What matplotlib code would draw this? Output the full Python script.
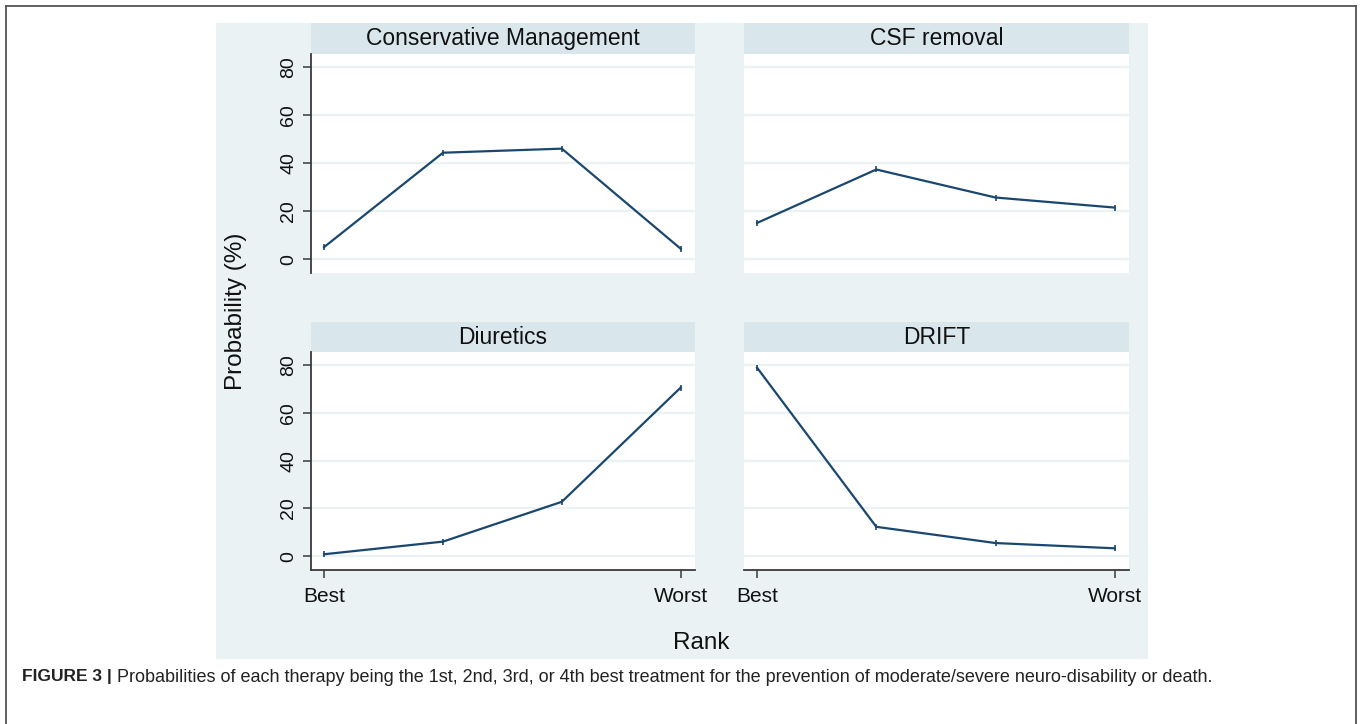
import matplotlib
matplotlib.use("Agg")
import matplotlib.pyplot as plt
from matplotlib.patches import Rectangle
from matplotlib.lines import Line2D

plt.rcParams['font.family'] = ['Liberation Sans', 'DejaVu Sans']

# ---- data ----
ranks = [1, 2, 3, 4]
rank_tick_pos = [1, 4]
rank_tick_labels = ["Best", "Worst"]
y_ticks = [0, 20, 40, 60, 80]
panel_titles = ["Conservative Management", "CSF removal", "Diuretics", "DRIFT"]
conservative = [5.0, 44.4, 46.1, 4.3]
csf_removal = [15.1, 37.4, 25.7, 21.5]
diuretics = [0.8, 6.1, 22.8, 70.7]
drift = [79.0, 12.3, 5.5, 3.3]
series = [conservative, csf_removal, diuretics, drift]
caption_bold = "FIGURE 3 |"
caption_text = (" Probabilities of each therapy being the 1st, 2nd, 3rd, or 4th best treatment "
                "for the prevention of moderate/severe neuro-disability or death.")

W, H = 1360, 724
fig = plt.figure(figsize=(W / 100, H / 100), dpi=100)

def fx(x):
    return x / W

def fy(y):
    return 1 - y / H

BG = "#eaf2f3"
STRIP = "#d9e6eb"
NAVY = "#1a476f"
SPINE = "#3a3a3a"

# outer border (left, top, right)
fig.add_artist(Line2D([fx(5.5), fx(5.5)], [fy(724), fy(6)], transform=fig.transFigure, color="#555555", lw=1.3))
fig.add_artist(Line2D([fx(5.5), fx(1355.5)], [fy(6), fy(6)], transform=fig.transFigure, color="#555555", lw=1.3))
fig.add_artist(Line2D([fx(1355.5), fx(1355.5)], [fy(6), fy(724)], transform=fig.transFigure, color="#555555", lw=1.3))

# graph region background
fig.add_artist(Rectangle((fx(216), fy(659)), fx(1148) - fx(216), fy(23) - fy(659),
                         transform=fig.transFigure, facecolor=BG, edgecolor="none", zorder=0))

cols = [(311, 695), (744, 1129)]
rows = [((23, 54), (54, 273)), ((322, 352), (352, 570))]

for idx, (title, vals) in enumerate(zip(panel_titles, series)):
    r, c = divmod(idx, 2)
    x0, x1 = cols[c]
    (s0, s1), (p0, p1) = rows[r]
    # strip
    sax = fig.add_axes([fx(x0), fy(s1), fx(x1) - fx(x0), fy(s0) - fy(s1)])
    sax.set_facecolor(STRIP)
    sax.set_xticks([]); sax.set_yticks([])
    for sp in sax.spines.values():
        sp.set_visible(False)
    sax.text(0.5, 0.5, title, ha="center", va="center", fontsize=16.5, color="#111111",
             transform=sax.transAxes)
    # plot
    ax = fig.add_axes([fx(x0), fy(p1), fx(x1) - fx(x0), fy(p0) - fy(p1)])
    ax.set_facecolor("white")
    ax.set_xlim(0.89, 4.12)
    ax.set_ylim(-5.8, 85.6)
    for yv in y_ticks:
        ax.axhline(yv, color=BG, lw=1.6, zorder=1)
    ax.plot(ranks, vals, color=NAVY, lw=1.6, marker="|", markersize=4, markeredgewidth=1.2, zorder=3)
    for sp in ["top", "right"]:
        ax.spines[sp].set_visible(False)
    ax.spines["left"].set_visible(c == 0)
    ax.spines["bottom"].set_visible(r == 1)
    for sp in ["left", "bottom"]:
        ax.spines[sp].set_color(SPINE)
        ax.spines[sp].set_linewidth(1.3)
    if c == 0:
        ax.set_yticks(y_ticks)
        ax.set_yticklabels([str(v) for v in y_ticks], rotation=90, va="center", fontsize=14, color="#111111")
        ax.tick_params(axis="y", length=6, width=1.1, color=SPINE, pad=4)
    else:
        ax.set_yticks([])
    if r == 1:
        ax.set_xticks(rank_tick_pos)
        ax.set_xticklabels(rank_tick_labels, fontsize=15, color="#111111")
        ax.tick_params(axis="x", length=6, width=1.1, color=SPINE, pad=6)
    else:
        ax.set_xticks([])

fig.text(fx(236), fy(311), "Probability (%)", rotation=90, ha="center", va="center", fontsize=17.5, color="#111111")
fig.text(fx(701), fy(643), "Rank", ha="center", va="center", fontsize=17.5, color="#111111")

t1 = fig.text(fx(22), fy(677), caption_bold, ha="left", va="center", fontsize=12.5, fontweight="bold", color="#222222")
fig.canvas.draw()
bb = t1.get_window_extent()
fig.text(bb.x1 / W, fy(677), caption_text, ha="left", va="center", fontsize=13, color="#222222")

fig.savefig("out.png", dpi=100)
